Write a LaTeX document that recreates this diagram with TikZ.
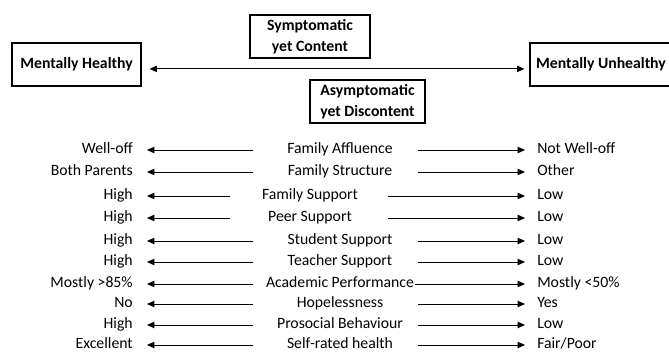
\documentclass[tikz,border=0pt]{standalone}
\usepackage{fontspec}
\setmainfont{Carlito}
\usetikzlibrary{arrows.meta}
\begin{document}
\begin{tikzpicture}[x=0.75pt,y=-0.75pt,
  box/.style={draw, line width=0.9pt, font=\bfseries\fontsize{11.8}{15.75}\selectfont, align=center, inner sep=0pt},
  lbl/.style={inner sep=0pt, font=\fontsize{11.8}{14}\selectfont, text height=1.6ex, text depth=0.4ex},
  arr/.style={line width=0.65pt, -{Triangle[length=5.5pt,width=4.8pt]}},
  darr/.style={line width=0.65pt, {Triangle[length=5.5pt,width=4.8pt]}-{Triangle[length=5.5pt,width=4.8pt]}},
]
\useasboundingbox (0,0) rectangle (669,353);
\node[box, minimum width=96.75pt, minimum height=32.25pt] (MH) at (76.5,64.5) {Mentally Healthy};
\node[box, minimum width=106.5pt, minimum height=32.25pt] (MU) at (601,64.5) {Mentally Unhealthy};
\node[box, minimum width=90pt, minimum height=32.25pt] (SC) at (310,36.5) {Symptomatic\\yet Content};
\node[box, minimum width=86.25pt, minimum height=32.25pt] (AD) at (367.5,101.5) {Asymptomatic\\yet Discontent};
\draw[darr, shorten <=6pt, shorten >=3.75pt] ([yshift=-3.3pt]MH.east) -- ([yshift=-3.3pt]MU.west);
\foreach \y/\l/\m/\mx/\r/\ls/\rs [count=\i] in {
  150/Well-off/Family Affluence/340/Not Well-off/253/418,
  172/Both Parents/Family Structure/340/Other/253/418,
  196/High/Family Support/310/Low/230/388,
  218/High/Peer Support/310/Low/230/388,
  241/High/Student Support/340/Low/253/418,
  262/High/Teacher Support/340/Low/253/418,
  284/Mostly >85\%/Academic Performance/340/Mostly <50\%/253/415,
  304/No/Hopelessness/340/Yes/253/418,
  325/High/Prosocial Behaviour/340/Low/253/418,
  345/Excellent/Self-rated health/340/{Fair/Poor}/253/418}{
  \node[lbl, anchor=east] (L\i) at (133,\y) {\l};
  \node[lbl] (M\i) at (\mx,\y) {\m};
  \node[lbl, anchor=west] (R\i) at (537,\y) {\r};
  \coordinate (sL\i) at (\ls,\y);
  \coordinate (sR\i) at (\rs,\y);
  \draw[arr, shorten >=10.5pt] (sL\i) -- (L\i.east);
  \draw[arr, shorten >=9pt] (sR\i) -- (R\i.west);
}
\end{tikzpicture}
\end{document}
